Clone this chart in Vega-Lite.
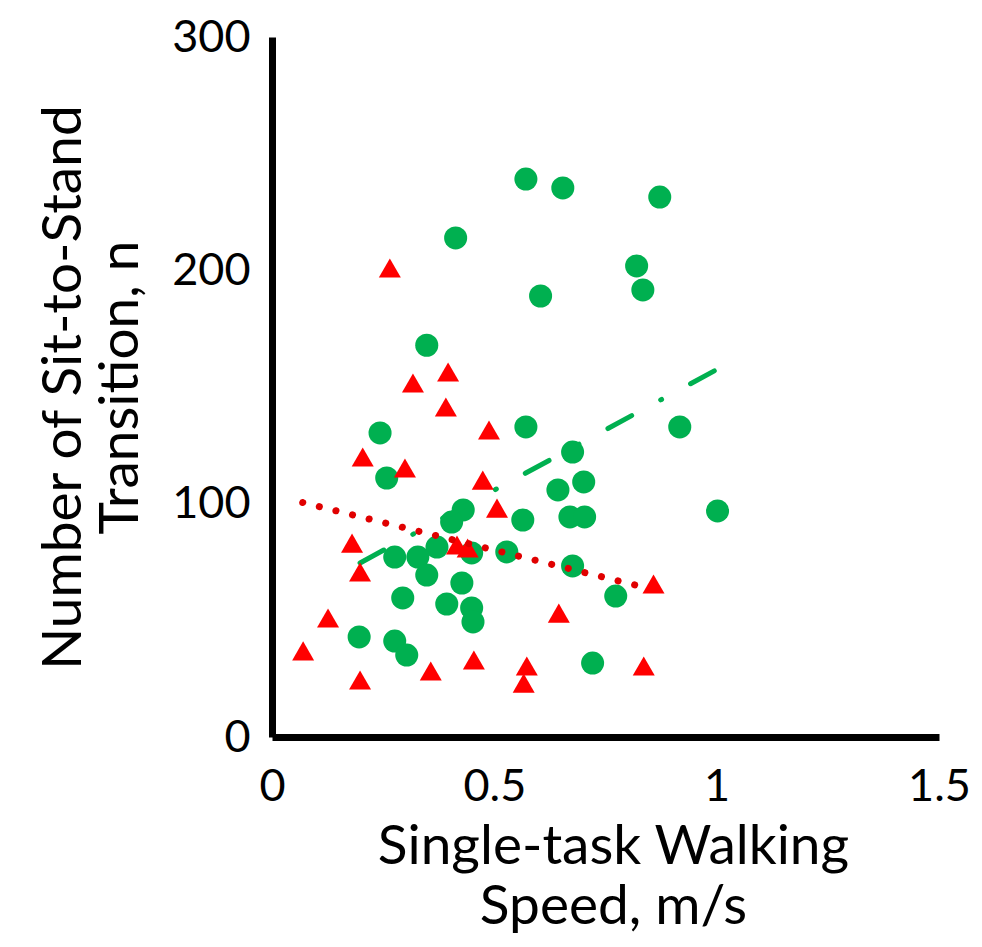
{
  "$schema": "https://vega.github.io/schema/vega-lite/v6.json",
  "width": 667,
  "height": 700,
  "autosize": "none",
  "padding": {"left": 272, "top": 37, "right": 43, "bottom": 210},
  "background": "white",
  "config": {
    "view": {"stroke": null},
    "font": "Lato",
    "axis": {"grid": false, "ticks": false, "tickSize": 0, "domainColor": "black", "domainWidth": 7, "labelColor": "black", "titleColor": "black", "labelFont": "Lato", "titleFont": "Lato", "labelFontSize": 45, "titleFontSize": 55, "titleFontWeight": "normal", "labelOverlap": false, "labelFlush": false}
  },
  "datasets": {
    "circles": [
      {"speed": 0.571, "n": 239.1}, {"speed": 0.654, "n": 235.3}, {"speed": 0.872, "n": 231.4},
      {"speed": 0.413, "n": 213.9}, {"speed": 0.820, "n": 201.9}, {"speed": 0.834, "n": 191.6},
      {"speed": 0.604, "n": 189.0}, {"speed": 0.348, "n": 167.9}, {"speed": 0.571, "n": 132.9},
      {"speed": 0.917, "n": 132.9}, {"speed": 0.243, "n": 130.3}, {"speed": 0.676, "n": 122.1},
      {"speed": 0.258, "n": 111.0}, {"speed": 0.701, "n": 109.3}, {"speed": 0.643, "n": 105.9},
      {"speed": 1.002, "n": 96.9}, {"speed": 0.564, "n": 93.0}, {"speed": 0.670, "n": 94.3},
      {"speed": 0.703, "n": 94.3}, {"speed": 0.430, "n": 97.3}, {"speed": 0.404, "n": 92.1},
      {"speed": 0.371, "n": 81.4}, {"speed": 0.449, "n": 78.9}, {"speed": 0.528, "n": 79.3},
      {"speed": 0.276, "n": 77.1}, {"speed": 0.328, "n": 77.1}, {"speed": 0.348, "n": 69.4},
      {"speed": 0.676, "n": 73.3}, {"speed": 0.427, "n": 66.0}, {"speed": 0.294, "n": 59.6},
      {"speed": 0.773, "n": 60.4}, {"speed": 0.393, "n": 57.0}, {"speed": 0.449, "n": 55.3},
      {"speed": 0.452, "n": 49.3}, {"speed": 0.196, "n": 42.9}, {"speed": 0.276, "n": 41.1},
      {"speed": 0.303, "n": 35.1}, {"speed": 0.721, "n": 31.7}
    ],
    "triangles": [
      {"speed": 0.265, "n": 201.0}, {"speed": 0.396, "n": 156.4}, {"speed": 0.317, "n": 151.7},
      {"speed": 0.391, "n": 141.4}, {"speed": 0.488, "n": 131.6}, {"speed": 0.204, "n": 120.0},
      {"speed": 0.299, "n": 115.3}, {"speed": 0.474, "n": 110.1}, {"speed": 0.506, "n": 98.1},
      {"speed": 0.180, "n": 83.1}, {"speed": 0.416, "n": 82.3}, {"speed": 0.440, "n": 81.0},
      {"speed": 0.198, "n": 70.7}, {"speed": 0.858, "n": 65.6}, {"speed": 0.645, "n": 53.1},
      {"speed": 0.126, "n": 51.0}, {"speed": 0.070, "n": 36.9}, {"speed": 0.454, "n": 33.0},
      {"speed": 0.573, "n": 30.4}, {"speed": 0.836, "n": 30.4}, {"speed": 0.357, "n": 28.3},
      {"speed": 0.198, "n": 24.4}, {"speed": 0.566, "n": 23.1}
    ],
    "greenTrend": [{"speed": 0.198, "n": 74.6}, {"speed": 1.007, "n": 158.2}],
    "redTrend": [{"speed": 0.069, "n": 100.5}, {"speed": 0.834, "n": 64.3}]
  },
  "layer": [
    {
      "data": {"name": "circles"},
      "mark": {"type": "point", "shape": "circle", "filled": true, "size": 531, "color": "#00B050", "opacity": 1},
      "encoding": {
        "x": {"field": "speed", "type": "quantitative", "scale": {"domain": [0, 1.5], "nice": false, "zero": false},
          "axis": {"values": [0, 0.5, 1, 1.5], "format": "~g", "labelPadding": 63, "labelBaseline": "alphabetic",
            "title": ["Single-task Walking", "Speed, m/s"], "titleX": 341, "titleY": 126, "titleAnchor": null, "titleAlign": "center", "titleBaseline": "alphabetic", "titleLineHeight": 60}},
        "y": {"field": "n", "type": "quantitative", "scale": {"domain": [0, 300], "nice": false},
          "axis": {"values": [0, 100, 200, 300], "labelPadding": 22, "labelBaseline": "middle",
            "title": ["Number of Sit-to-Stand", "Transition, n"], "titleAngle": -90, "titleX": -192, "titleY": 350, "titleAlign": "center", "titleBaseline": "alphabetic", "titleLineHeight": 57}}
      }
    },
    {
      "data": {"name": "greenTrend"},
      "mark": {"type": "line", "color": "#00B050", "strokeWidth": 5, "strokeCap": "round", "strokeDash": [27, 33, 1, 33]},
      "encoding": {"x": {"field": "speed", "type": "quantitative"}, "y": {"field": "n", "type": "quantitative"}}
    },
    {
      "data": {"name": "triangles"},
      "mark": {"type": "point", "shape": "triangle-up", "filled": true, "size": 484, "color": "#FF0000", "opacity": 1},
      "encoding": {"x": {"field": "speed", "type": "quantitative"}, "y": {"field": "n", "type": "quantitative"}}
    },
    {
      "data": {"name": "redTrend"},
      "mark": {"type": "line", "color": "#E00000", "strokeWidth": 7, "strokeCap": "round", "strokeDash": [0.1, 17]},
      "encoding": {"x": {"field": "speed", "type": "quantitative"}, "y": {"field": "n", "type": "quantitative"}}
    }
  ]
}
